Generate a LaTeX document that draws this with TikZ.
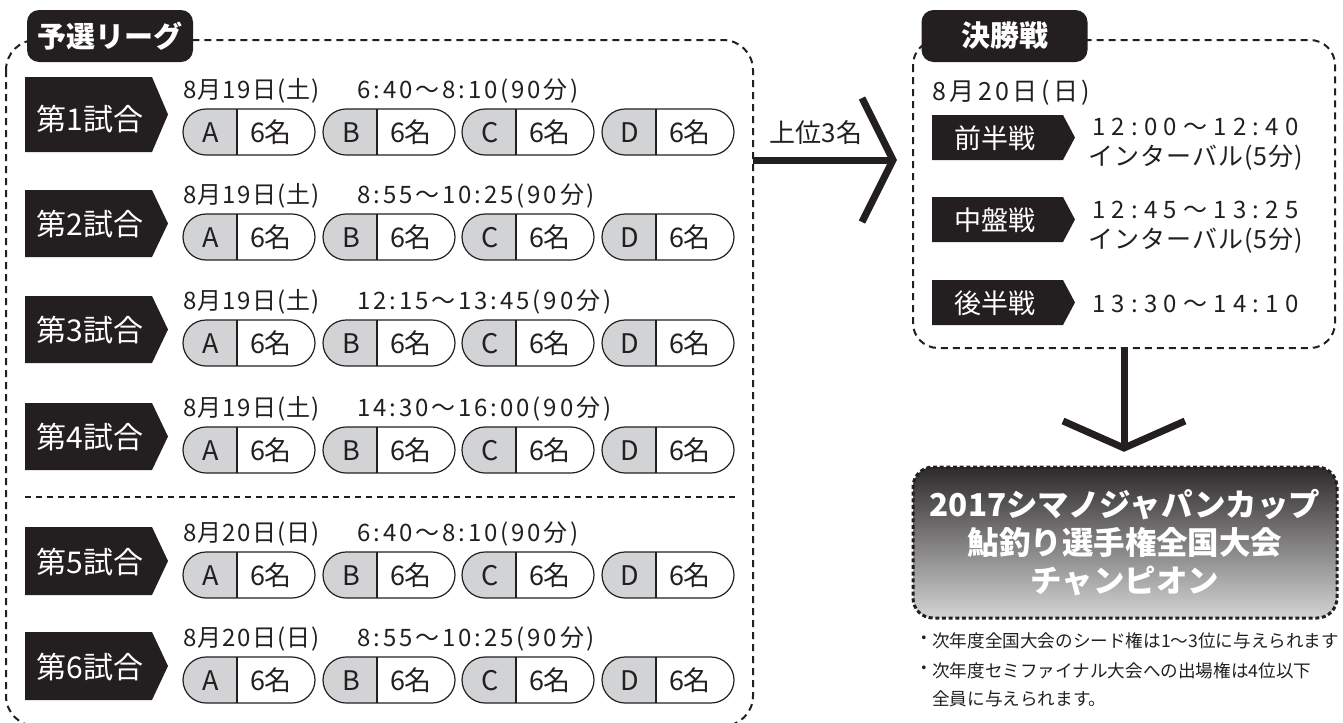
\documentclass[tikz,border=0pt]{standalone}
\usepackage{fontspec}
\setmainfont{Noto Sans CJK JP}
\newfontfamily\jpdate[LetterSpace=5]{Noto Sans CJK JP}
\newfontfamily\jprdate[LetterSpace=14]{Noto Sans CJK JP}
\newfontfamily\jptime[LetterSpace=12]{Noto Sans CJK JP}
\newfontfamily\jpclock[LetterSpace=26]{Noto Sans CJK JP}
\newfontfamily\jpint[LetterSpace=4]{Noto Sans CJK JP}
\usetikzlibrary{calc}
\definecolor{ink}{HTML}{231F20}
\definecolor{pillgray}{HTML}{D1D3D4}
\tikzset{
  dashbox/.style={draw=ink, line width=1.5pt, dash pattern=on 5.25pt off 3.75pt},
  sepline/.style={draw=ink, line width=1.5pt, dash pattern=on 4.5pt off 3.75pt},
  titlebox/.style={fill=ink, rounded corners=9pt, minimum width=124.5pt, minimum height=39pt, inner sep=0pt, text=white, font=\fontsize{21.75}{26}\selectfont\bfseries},
  labtext/.style={text=white, inner sep=0pt, anchor=base, font=\fontsize{22.5}{26}\selectfont},
  phasetext/.style={text=white, inner sep=0pt, anchor=base, font=\fontsize{20.25}{24}\selectfont},
  datetext/.style={text=ink, inner sep=0pt, anchor=base west, font=\jpdate\fontsize{18}{22}\selectfont},
  timetext/.style={text=ink, inner sep=0pt, anchor=base west, font=\jptime\fontsize{18}{22}\selectfont},
  pilltext/.style={text=ink, inner sep=0pt, anchor=base, font=\fontsize{20.25}{24}\selectfont},
  pillline/.style={draw=ink, line width=0.9pt},
  clocktext/.style={text=ink, inner sep=0pt, anchor=base west, font=\jpclock\fontsize{18}{22}\selectfont},
  inttext/.style={text=ink, inner sep=0pt, anchor=base west, font=\jpint\fontsize{18.75}{22}\selectfont},
  rdatetext/.style={text=ink, inner sep=0pt, anchor=base west, font=\jprdate\fontsize{18.75}{22}\selectfont},
  toptext/.style={text=ink, inner sep=0pt, font=\fontsize{19.5}{23}\selectfont},
  bigarrow/.style={draw=ink, line width=5.25pt},
  chevron/.style={draw=ink, line width=5.25pt, miter limit=10},
  champ/.style={draw=ink, line width=2.25pt, dash pattern=on 3pt off 2pt, rounded corners=15pt, top color=ink!95, bottom color=black!17, minimum width=318pt, minimum height=113.25pt, inner sep=0pt, text=white, align=center, font=\fontsize{23.6}{28.5}\selectfont\bfseries},
  notetext/.style={text=ink, inner sep=0pt, anchor=base west, font=\fontsize{13.2}{16}\selectfont},
  bullet/.style={text=ink, inner sep=0pt, font=\fontsize{13.2}{16}\selectfont},
}
\begin{document}
\begin{tikzpicture}[x=0.75pt,y=-0.75pt]
\useasboundingbox (0,0) rectangle (1343,722);
% ---------- left box ----------
\draw[dashbox, rounded corners=22.5pt] (6,40) rectangle (753,726);
\node[titlebox] (qual) at (110,36) {予選リーグ};
\draw[sepline] (25,497) -- (735,497);
\foreach \rn/\pc/\tp/\dt/\tm in {
  1/132/77/{8月19日(土)}/{6:40〜8:10(90分)},
  2/237/190/{8月19日(土)}/{8:55〜10:25(90分)},
  3/343/296/{8月19日(土)}/{12:15〜13:45(90分)},
  4/450/403/{8月19日(土)}/{14:30〜16:00(90分)},
  5/575/527/{8月20日(日)}/{6:40〜8:10(90分)},
  6/680/632/{8月20日(日)}/{8:55〜10:25(90分)}}{
  \fill[ink] (25,\tp) -- (152,\tp) -- (168,{(\tp+\pc+20)/2}) -- (152,\pc+20) -- (25,\pc+20) -- cycle;
  \node[labtext] (lab\rn) at (90,\pc-2) {第\rn{}試合};
  \node[datetext] (date\rn) at (183,\pc-34) {\dt};
  \node[timetext] (time\rn) at (357,\pc-34) {\tm};
  \foreach \gl/\gx in {A/183,B/323,C/462,D/602}{
    \begin{scope}
      \clip[rounded corners=17.25pt] (\gx,\pc-23) rectangle (\gx+132,\pc+23);
      \fill[pillgray] (\gx,\pc-23) rectangle (\gx+54,\pc+23);
    \end{scope}
    \draw[pillline, rounded corners=17.25pt] (\gx,\pc-23) rectangle (\gx+132,\pc+23);
    \draw[pillline] (\gx+54,\pc-23) -- (\gx+54,\pc+23);
    \node[pilltext] (g\rn\gl) at (\gx+28,\pc+10.5) {\gl};
    \node[pilltext] (n\rn\gl) at (\gx+88,\pc+10.5) {6名};
  }
}
% ---------- right box ----------
\draw[dashbox, rounded corners=18.75pt] (913,40) rectangle (1335,348);
\node[titlebox] (final) at (1004.5,36) {決勝戦};
\node[rdatetext] (fdate) at (932,100) {8月20日(日)};
\foreach \pn/\tp/\lab in {1/115/前半戦, 2/197/中盤戦, 3/280/後半戦}{
  \fill[ink] (932,\tp) -- (1063,\tp) -- (1075,\tp+22.5) -- (1063,\tp+45) -- (932,\tp+45) -- cycle;
  \node[phasetext] (ph\pn) at (995,\tp+33) {\lab};
}
\node[clocktext] (c1) at (1092,135) {12:00〜12:40};
\node[inttext] (i1) at (1088,165) {インターバル(5分)};
\node[clocktext] (c2) at (1092,218) {12:45〜13:25};
\node[inttext] (i2) at (1088,248) {インターバル(5分)};
\node[clocktext] (c3) at (1092,312) {13:30〜14:10};
% ---------- arrows ----------
\coordinate (qualE) at (753,160);
\coordinate (finW) at (893,160);
\draw[bigarrow] (qualE) -- (finW);
\draw[chevron] ($(finW)+(-31,-62)$) -- (finW) -- ($(finW)+(-31,62)$);
\node[toptext] (top3) at (816,133) {上位3名};
\coordinate (finS) at (1124,348);
\coordinate (champN) at (1124,448);
\draw[bigarrow] (finS) -- (champN);
\draw[chevron] ($(champN)+(-61,-27)$) -- (champN) -- ($(champN)+(61,-27)$);
% ---------- champion ----------
\node[champ] (champ) at (1125,542.5) {2017シマノジャパンカップ\\鮎釣り選手権全国大会\\チャンピオン};
% ---------- notes ----------
\node[bullet] (b1) at (924,640) {・};
\node[notetext] (n1) at (932,647) {次年度全国大会のシード権は1〜3位に与えられます};
\node[bullet] (b2) at (924,670) {・};
\node[notetext] (n2) at (932,677) {次年度セミファイナル大会への出場権は4位以下};
\node[notetext] (n3) at (932,705) {全員に与えられます。};
\end{tikzpicture}
\end{document}
